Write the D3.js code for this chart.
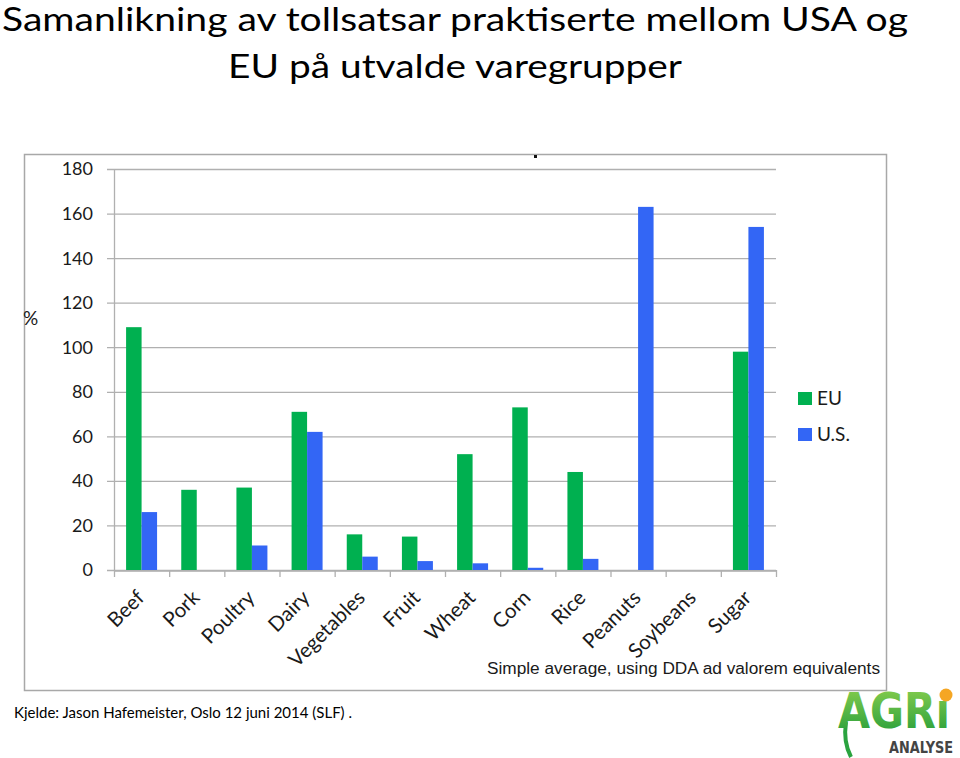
<!DOCTYPE html>
<html>
<head>
<meta charset="utf-8">
<script src="https://d3js.org/d3.v7.min.js"></script>
<style>
  body { margin: 0; background: #fff; }
  svg { display: block; }
</style>
</head>
<body>
<svg id="chart" width="960" height="758"></svg>
<script>
// data
let categories = ["Beef", "Pork", "Poultry", "Dairy", "Vegetables", "Fruit", "Wheat", "Corn", "Rice", "Peanuts", "Soybeans", "Sugar"];
let eu_values = [109, 36, 37, 71, 16, 15, 52, 73, 44, 0, 0, 98];
let us_values = [26, 0, 11, 62, 6, 4, 3, 1, 5, 163, 0, 154];
let series_names = ["EU", "U.S."];
let y_ticks = [0, 20, 40, 60, 80, 100, 120, 140, 160, 180];

let eu_color = "#00b050";
let us_color = "#3366f5";
let grid_color = "#b0b0b0";

let svg = d3.select("#chart");

// title
let titleFont = "Lato, 'Noto Sans', sans-serif";
svg.append("text")
    .attr("x", 2).attr("y", 31)
    .attr("textLength", 906).attr("lengthAdjust", "spacingAndGlyphs")
    .style("font-family", titleFont).style("font-size", "32.5px")
    .text("Samanlikning av tollsatsar praktiserte mellom USA og");
svg.append("text")
    .attr("x", 228).attr("y", 78)
    .attr("textLength", 454).attr("lengthAdjust", "spacingAndGlyphs")
    .style("font-family", titleFont).style("font-size", "32.5px")
    .text("EU på utvalde varegrupper");

// chart frame
svg.append("rect")
    .attr("x", 24.5).attr("y", 154.5)
    .attr("width", 862).attr("height", 536)
    .attr("fill", "#fff").attr("stroke", "#a8a8a8").attr("stroke-width", 1.5);

// the little stray dot near the top of the frame
svg.append("rect").attr("x", 534).attr("y", 155).attr("width", 3).attr("height", 3).attr("fill", "#111");

let plotLeft = 114, plotRight = 776, plotTop = 169, plotBottom = 570;

let x = d3.scaleBand().domain(categories).range([plotLeft, plotRight]);
let xs = d3.scaleBand().domain(series_names).range([0, x.bandwidth()]).paddingOuter(0.78).paddingInner(0);
let y = d3.scaleLinear().domain([0, 180]).range([plotBottom, plotTop]);

// gridlines
let g = svg.append("g");
g.selectAll("line.grid")
    .data(y_ticks)
    .join("line")
    .attr("x1", plotLeft - 7).attr("x2", plotRight)
    .attr("y1", d => y(d) + 0.5).attr("y2", d => y(d) + 0.5)
    .attr("stroke", grid_color).attr("stroke-width", 1.3);

// y axis labels
let labelFont = "Lato, 'Open Sans', sans-serif";
g.selectAll("text.ylab")
    .data(y_ticks)
    .join("text")
    .attr("x", 93).attr("y", d => y(d))
    .attr("dy", "0.36em")
    .attr("text-anchor", "end")
    .style("font-family", labelFont).style("font-size", "18px")
    .attr("fill", "#1a1a1a")
    .text(d => d);

svg.append("text")
    .attr("x", 23).attr("y", 325)
    .style("font-family", labelFont).style("font-size", "19px")
    .attr("fill", "#1a1a1a")
    .text("%");

// bars
let groups = svg.append("g").selectAll("g")
    .data(categories.map((c, i) => ({ cat: c, vals: [eu_values[i], us_values[i]] })))
    .join("g")
    .attr("transform", d => "translate(" + x(d.cat) + ",0)");

groups.selectAll("rect")
    .data(d => d.vals.map((v, j) => ({ name: series_names[j], v: v })))
    .join("rect")
    .attr("x", d => xs(d.name))
    .attr("width", xs.bandwidth())
    .attr("y", d => y(d.v))
    .attr("height", d => y(0) - y(d.v))
    .attr("fill", d => d.name == "EU" ? eu_color : us_color);

// y axis line and x axis
svg.append("line")
    .attr("x1", plotLeft + 0.5).attr("x2", plotLeft + 0.5)
    .attr("y1", plotTop).attr("y2", plotBottom)
    .attr("stroke", grid_color).attr("stroke-width", 1.3);

let x_axis = d3.axisBottom(x).tickSize(0).tickFormat("");
let xg = svg.append("g").attr("transform", "translate(0," + (plotBottom + 0.5) + ")").call(x_axis);
xg.select(".domain").attr("stroke", grid_color).attr("stroke-width", 1.3);

// tick marks at band boundaries
let bounds = categories.map(c => x(c)).concat([plotRight]);
svg.selectAll("line.xtick")
    .data(bounds)
    .join("line")
    .attr("x1", d => d + 0.5).attr("x2", d => d + 0.5)
    .attr("y1", plotBottom).attr("y2", plotBottom + 7)
    .attr("stroke", grid_color).attr("stroke-width", 1.3);

// rotated category labels
svg.selectAll("text.xlab")
    .data(categories)
    .join("text")
    .attr("transform", d => "translate(" + (x(d) + x.bandwidth() / 2 + 4) + "," + (plotBottom + 29) + ") rotate(-45)")
    .attr("text-anchor", "end")
    .style("font-family", labelFont).style("font-size", "20.5px")
    .attr("fill", "#1a1a1a")
    .text(d => d);

// legend
let legend = svg.append("g").selectAll("g")
    .data(series_names)
    .join("g")
    .attr("transform", (d, i) => "translate(798," + (392 + i * 36) + ")");
legend.append("rect")
    .attr("width", 14).attr("height", 13)
    .attr("fill", d => d == "EU" ? eu_color : us_color);
legend.append("text")
    .attr("x", 19).attr("y", 13)
    .style("font-family", labelFont).style("font-size", "19px")
    .attr("fill", "#1a1a1a")
    .text(d => d);

// note under the chart
svg.append("text")
    .attr("x", 487).attr("y", 674)
    .attr("textLength", 393).attr("lengthAdjust", "spacingAndGlyphs")
    .style("font-family", "'Liberation Sans', Arial, sans-serif").style("font-size", "16px")
    .attr("fill", "#1a1a1a")
    .text("Simple average, using DDA ad valorem equivalents");

// source
svg.append("text")
    .attr("x", 14).attr("y", 718)
    .attr("textLength", 338).attr("lengthAdjust", "spacingAndGlyphs")
    .style("font-family", titleFont).style("font-size", "15px")
    .text("Kjelde: Jason Hafemeister, Oslo 12 juni 2014 (SLF) .");

// logo
let logo = svg.append("g");
let grad = svg.append("defs").append("linearGradient")
    .attr("id", "lg").attr("x1", 0).attr("y1", 0).attr("x2", 0).attr("y2", 1);
grad.append("stop").attr("offset", "0%").attr("stop-color", "#8fd14f");
grad.append("stop").attr("offset", "100%").attr("stop-color", "#1e9a3a");
logo.append("path")
    .attr("d", "M846,722 Q843,742 851,757")
    .attr("fill", "none").attr("stroke", "#2aa33f").attr("stroke-width", 4);
logo.append("text")
    .attr("x", 838).attr("y", 728)
    .attr("textLength", 112).attr("lengthAdjust", "spacingAndGlyphs")
    .style("font-family", "'Liberation Sans Narrow', 'DejaVu Sans Condensed', sans-serif")
    .style("font-size", "50px").style("font-weight", "bold")
    .attr("fill", "url(#lg)")
    .text("AGRı");
logo.append("circle").attr("cx", 946).attr("cy", 695).attr("r", 6.5).attr("fill", "#f5a623");
logo.append("text")
    .attr("x", 889).attr("y", 753)
    .attr("textLength", 64).attr("lengthAdjust", "spacingAndGlyphs")
    .style("font-family", "'Liberation Sans Narrow', 'DejaVu Sans Condensed', sans-serif")
    .style("font-size", "15px").style("font-weight", "bold")
    .attr("fill", "#444")
    .text("ANALYSE");
</script>
</body>
</html>
